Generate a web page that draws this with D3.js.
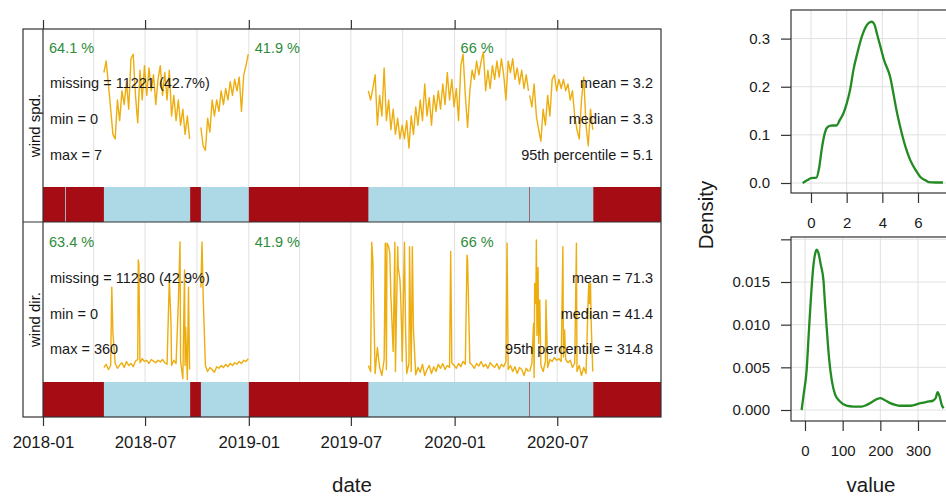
<!DOCTYPE html>
<html><head><meta charset="utf-8">
<script src="https://cdn.jsdelivr.net/npm/d3@7"></script>
<style>
body{margin:0;background:#fff}
svg{display:block}
text{font-family:"Liberation Sans",Arial,sans-serif}
</style>
</head><body>
<svg id="c" width="946" height="496"></svg>
<script>
// ---------------- DATA ----------------
const variables = ["wind spd.", "wind dir."];
const xTickLabels = ["2018-01","2018-07","2019-01","2019-07","2020-01","2020-07"];
const gridDates = ["2018-04-01","2018-07-01","2018-10-01","2019-01-01","2019-04-01","2019-07-01","2019-10-01","2020-01-01","2020-04-01","2020-07-01"];
const yearStarts = ["2018-01-01","2019-01-01","2020-01-01"];
const stepDays = 4;

// wind speed daily means (every 4 days within each run of data)
const wsStarts = ["2018-04-19","2018-10-08","2019-08-01","2020-05-13"];
const wsSegA = [4.5,5.0,4.0,2.9,1.8,1.6,3.3,2.4,3.7,3.1,4.1,2.9,5.1,5.3,3.5,2.3,4.6,3.3,4.8,3.5,4.7,3.7,4.4,3.1,4.2,4.8,3.5,4.5,3.3,4.6,2.6,3.5,2.4,3.3,2.2,2.9,1.8,2.6,1.6];
const wsSegB = [2.1,1.3,1.1,2.5,1.9,3.3,2.6,3.3,2.8,3.7,3.1,3.8,3.3,4.1,3.5,4.2,3.7,4.3,2.8,4.4,4.8,5.3];
const wsSegC = [3.7,3.3,3.8,4.4,2.2,3.5,2.6,4.7,2.4,3.3,2.0,2.9,1.8,2.5,1.6,2.2,1.6,2.4,1.2,2.6,1.8,3.0,2.2,3.3,2.4,4.0,2.6,3.4,2.2,3.5,2.8,3.7,2.9,4.0,3.1,4.5,3.3,4.2,3.0,3.8,2.4,4.8,5.3,3.5,2.1,3.7,4.6,4.2,5.0,4.4,5.0,5.4,3.7,4.6,3.8,4.8,4.2,5.0,4.3,5.1,4.4,3.3,5.0,4.5,5.1,4.2,4.7,4.0,4.6,3.8,4.4,3.7];
const wsSegD = [3.5,3.0,4.0,2.6,2.0,1.5,2.9,2.2,3.5,2.6,4.2,4.4,3.7,4.2,3.8,4.2,3.7,4.0,3.3,3.7,2.6,2.0,1.6,3.3,4.3,2.2,1.3,2.9,2.0];

// wind direction daily means (every 4 days) plus individual high days
const wdStarts = ["2018-04-19","2018-10-08","2019-08-01","2020-05-13"];
const wdSegA = [40,48,35,45,30,50,38,46,52,40,55,45,50,42,56,60,52,62,55,58,50,60,56,52,58,54,60,52,48,55,45,58,50,40,55,12,45,10,35];
const wdSegB = [240,220,45,30,40,35,28,42,38,45,40,48,42,50,45,52,48,55,50,58,55,62];
const wdSegC = [45,30,70,25,90,40,20,60,35,50,25,80,30,45,20,55,35,25,50,30,45,22,40,28,48,20,35,45,25,42,30,48,38,50,35,45,40,52,45,38,50,42,55,48,40,52,46,38,50,44,55,42,48,38,52,45,40,50,36,48,42,55,35,45,30,42,25,40,35,20,38,30];
const wdSegD = [30,50,15,60,25,45,30,55,40,60,55,65,58,62,55,66,60,52,58,40,50,30,45,20,40,25,35,15,30];
const wdSpikeDates = ["2018-05-03","2018-05-05","2018-06-19","2018-06-20","2018-08-13","2018-08-16","2018-08-29","2018-09-01","2018-09-09","2018-09-11","2018-09-16",
  "2018-10-10",
  "2019-08-07","2019-08-09","2019-08-30","2019-08-31","2019-09-03","2019-09-06","2019-09-08","2019-09-10","2019-09-17","2019-09-22","2019-09-23","2019-09-26","2019-09-27","2019-09-29","2019-10-04","2019-10-06","2019-10-13","2019-10-18","2019-10-20","2019-12-25","2020-01-23","2020-01-24","2020-04-03",
  "2020-05-20","2020-05-22","2020-05-24","2020-05-25","2020-05-26","2020-05-28","2020-05-29","2020-05-31","2020-06-11","2020-07-11","2020-07-14","2020-08-04","2020-08-25","2020-08-26","2020-08-27","2020-08-28","2020-08-29","2020-08-30"];
const wdSpikeValues = [241,126,309,300,259,151,201,354,284,141,241,
  354,
  353,309,192,351,351,342,326,217,353,342,290,260,230,134,353,134,342,342,134,330,321,310,351,
  150,250,200,359,120,290,100,209,209,342,134,351,217,250,200,240,251,160];

// data capture (periods with data)
const wsCapture = [["2018-02-09","2018-02-10"],["2018-04-19","2018-09-19"],["2018-10-08","2019-01-01"],["2019-08-01","2020-05-12"],["2020-05-13","2020-09-03"]];
const wdCapture = [["2018-04-19","2018-09-19"],["2018-10-08","2019-01-01"],["2019-08-01","2020-05-12"],["2020-05-13","2020-09-03"]];

const wsPercent = ["64.1 %","41.9 %","66 %"];
const wdPercent = ["63.4 %","41.9 %","66 %"];
const wsStatsLeft = ["missing = 11221 (42.7%)","min = 0","max = 7"];
const wsStatsRight = ["mean = 3.2","median = 3.3","95th percentile = 5.1"];
const wdStatsLeft = ["missing = 11280 (42.9%)","min = 0","max = 360"];
const wdStatsRight = ["mean = 71.3","median = 41.4","95th percentile = 314.8"];

// density curves
const wsDensX = [-0.47,-0.2,0,0.3,0.45,0.6,0.75,0.9,1.1,1.45,1.6,1.82,2.0,2.2,2.38,2.6,2.85,3.13,3.3,3.41,3.55,3.7,3.88,4.1,4.44,4.65,4.8,5.0,5.3,5.56,5.9,6.12,6.4,6.6,7.0,7.4];
const wsDensY = [0,0.006,0.01,0.011,0.03,0.07,0.1,0.115,0.119,0.12,0.13,0.145,0.165,0.195,0.235,0.27,0.304,0.328,0.334,0.335,0.33,0.31,0.285,0.255,0.22,0.18,0.15,0.117,0.075,0.048,0.025,0.013,0.006,0.002,0.001,0.001];
const wdDensX = [-9,-3,4.4,10,16,22,28,31,35,42,49,53,58,64,71,80,93,110,128,150,164,180,192,200,210,226,240,252,280,306,330,340,347,352,358,363,368];
const wdDensY = [0,0.002,0.0047,0.009,0.0133,0.0168,0.0185,0.0188,0.0185,0.017,0.0152,0.0125,0.0094,0.006,0.0035,0.0018,0.001,0.0005,0.0004,0.0004,0.0006,0.001,0.0013,0.0014,0.0012,0.0008,0.0006,0.0005,0.0005,0.0008,0.001,0.0011,0.0014,0.0021,0.0015,0.0006,0.0002];
const wsDensXTicks = [0,2,4,6];
const wsDensYTicks = [0,0.1,0.2,0.3];
const wsDensYLabels = ["0.0","0.1","0.2","0.3"];
const wdDensXTicks = [0,100,200,300];
const wdDensYTicks = [0,0.005,0.01,0.015,0.02];
const wdDensYLabels = ["0.000","0.005","0.010","0.015",""];

// ---------------- DRAW ----------------
const svg = d3.select("#c");
const P = d3.utcParse("%Y-%m-%d");
const DAY = 86400000;
const RED = "#A50C14", BLUE = "#ADD8E6", GOLD = "#EEAD0E", GREEN = "#228B22", PCTGREEN = "#2E8B3A", GRID = "#E0E0E0", BORDER = "#333";
const FONT = "Liberation Sans, Arial, sans-serif";

const L = {x0:43, x1:661, sx:23};
const x = d3.scaleUtc().domain([P("2018-01-01"), P("2021-01-01")]).range([L.x0, L.x1]);

function buildSegments(starts, segs, spikeDates, spikeVals) {
  const spikes = spikeDates.map((d,i)=>({date:P(d), value:spikeVals[i]}));
  return segs.map((vals, i) => {
    const s = P(starts[i]).getTime();
    const m = new Map();
    vals.forEach((v,k)=>m.set(s + k*stepDays*DAY, v));
    const e = s + (vals.length-1)*stepDays*DAY;
    spikes.forEach(p => { const t = p.date.getTime(); if (t>=s && t<=e) m.set(t, p.value); });
    return Array.from(m, ([t,v])=>({date:new Date(t), value:v})).sort((a,b)=>a.date-b.date);
  });
}

const panels = [
  {name:variables[0], top:29, dataBottom:187, bottom:222,
   y:d3.scaleLinear().domain([-0.5,6.4]).range([187,29]),
   segs:buildSegments(wsStarts,[wsSegA,wsSegB,wsSegC,wsSegD],[],[]),
   capture:wsCapture, pct:wsPercent, sl:wsStatsLeft, sr:wsStatsRight, textY:[48,83,119,155]},
  {name:variables[1], top:222, dataBottom:382, bottom:417,
   y:d3.scaleLinear().domain([0,360]).range([383.5,239.5]),
   segs:buildSegments(wdStarts,[wdSegA,wdSegB,wdSegC,wdSegD],wdSpikeDates,wdSpikeValues),
   capture:wdCapture, pct:wdPercent, sl:wdStatsLeft, sr:wdStatsRight, textY:[242,278,314,349]}
];

panels.forEach((p, pi) => {
  const g = svg.append("g");
  const cid = "clip"+pi;
  svg.append("clipPath").attr("id",cid).append("rect")
    .attr("x",L.x0).attr("y",p.top).attr("width",L.x1-L.x0).attr("height",p.dataBottom-p.top);
  g.selectAll("line.grid").data(gridDates).join("line")
    .attr("x1",d=>x(P(d))).attr("x2",d=>x(P(d)))
    .attr("y1",p.top).attr("y2",p.dataBottom)
    .attr("stroke",GRID).attr("stroke-width",1);
  const line = d3.line().x(d=>x(d.date)).y(d=>p.y(d.value));
  g.append("g").attr("clip-path",`url(#${cid})`).selectAll("path").data(p.segs).join("path")
    .attr("d",line).attr("fill","none").attr("stroke",GOLD).attr("stroke-width",1.4).attr("stroke-linejoin","round");
  g.append("rect").attr("x",L.x0).attr("y",p.dataBottom).attr("width",L.x1-L.x0).attr("height",p.bottom-p.dataBottom).attr("fill",RED);
  g.selectAll("rect.cap").data(p.capture).join("rect")
    .attr("x",d=>x(P(d[0]))).attr("y",p.dataBottom)
    .attr("width",d=>Math.max(0.8,x(P(d[1]))-x(P(d[0]))))
    .attr("height",p.bottom-p.dataBottom).attr("fill",BLUE);
  g.selectAll("text.pct").data(p.pct).join("text")
    .attr("x",(d,i)=>x(P(yearStarts[i]))+6).attr("y",p.textY[0])
    .attr("dominant-baseline","central").attr("font-size",14.5).attr("fill",PCTGREEN).text(d=>d);
  g.selectAll("text.sl").data(p.sl).join("text")
    .attr("x",50).attr("y",(d,i)=>p.textY[i+1]).attr("dominant-baseline","central")
    .attr("font-size",14.5).attr("fill","#1a1a1a").text(d=>d);
  g.selectAll("text.sr").data(p.sr).join("text")
    .attr("x",653).attr("y",(d,i)=>p.textY[i+1]).attr("dominant-baseline","central")
    .attr("text-anchor","end").attr("font-size",14.5).attr("fill","#1a1a1a").text(d=>d);
  g.append("text").attr("transform",`translate(${(L.sx+L.x0)/2+1},${(p.top+p.bottom)/2}) rotate(-90)`)
    .attr("text-anchor","middle").attr("dominant-baseline","central").attr("font-size",15).attr("fill","#111").text(p.name);
});

svg.append("rect").attr("x",L.sx).attr("y",29).attr("width",L.x1-L.sx).attr("height",417-29)
  .attr("fill","none").attr("stroke",BORDER).attr("stroke-width",1.2);
svg.append("line").attr("x1",L.x0).attr("x2",L.x0).attr("y1",29).attr("y2",417).attr("stroke",BORDER).attr("stroke-width",1.2);
svg.append("line").attr("x1",L.sx).attr("x2",L.x1).attr("y1",222).attr("y2",222).attr("stroke",BORDER).attr("stroke-width",1.2);

const xTicks = xTickLabels.map(s=>P(s+"-01"));
const axB = svg.append("g").attr("transform","translate(0,417)")
  .call(d3.axisBottom(x).tickValues(xTicks).tickFormat((d,i)=>xTickLabels[i]).tickSize(9).tickPadding(10));
axB.select(".domain").remove();
axB.selectAll("line").attr("stroke",BORDER).attr("stroke-width",1.2);
axB.selectAll("text").attr("font-size",16.8).attr("fill","#1a1a1a").attr("font-family",FONT);
const axT = svg.append("g").attr("transform","translate(0,29)")
  .call(d3.axisTop(x).tickValues(xTicks).tickFormat("").tickSize(9));
axT.select(".domain").remove();
axT.selectAll("line").attr("stroke",BORDER).attr("stroke-width",1.2);

svg.append("text").attr("x",352).attr("y",492).attr("text-anchor","middle").attr("font-size",20.5).attr("fill","#1a1a1a").text("date");

const dens = [
  {top:10,bottom:193,left:791,right:962,
   x:d3.scaleLinear().domain([0,6]).range([811,918]),
   y:d3.scaleLinear().domain([0,0.3]).range([183,38.6]),
   xs:wsDensX, ys:wsDensY, xt:wsDensXTicks, yt:wsDensYTicks, yl:wsDensYLabels},
  {top:237,bottom:421,left:791,right:962,
   x:d3.scaleLinear().domain([0,300]).range([805,918]),
   y:d3.scaleLinear().domain([0,0.015]).range([410,282]),
   xs:wdDensX, ys:wdDensY, xt:wdDensXTicks, yt:wdDensYTicks, yl:wdDensYLabels}
];
dens.forEach(d => {
  const g = svg.append("g");
  g.selectAll("line.vx").data(d.xt).join("line")
    .attr("x1",v=>d.x(v)).attr("x2",v=>d.x(v)).attr("y1",d.top).attr("y2",d.bottom).attr("stroke",GRID);
  g.selectAll("line.hy").data(d.yt.filter(v=>d.y(v)>d.top+2)).join("line")
    .attr("x1",d.left).attr("x2",d.right).attr("y1",v=>d.y(v)).attr("y2",v=>d.y(v)).attr("stroke",GRID);
  const pts = d.xs.map((v,i)=>[v,d.ys[i]]);
  g.append("path").attr("d",d3.line().x(q=>d.x(q[0])).y(q=>d.y(q[1])).curve(d3.curveMonotoneX)(pts))
    .attr("fill","none").attr("stroke",GREEN).attr("stroke-width",2.3);
  g.append("rect").attr("x",d.left).attr("y",d.top).attr("width",d.right-d.left).attr("height",d.bottom-d.top)
    .attr("fill","none").attr("stroke",BORDER).attr("stroke-width",1.2);
  const ax = g.append("g").attr("transform",`translate(0,${d.bottom})`)
    .call(d3.axisBottom(d.x).tickValues(d.xt).tickFormat(d3.format("d")).tickSize(10).tickPadding(14));
  ax.select(".domain").remove();
  ax.selectAll("line").attr("stroke",BORDER).attr("stroke-width",1.2);
  ax.selectAll("text").attr("font-size",15).attr("fill","#1a1a1a").attr("font-family",FONT);
  const ay = g.append("g").attr("transform",`translate(${d.left},0)`)
    .call(d3.axisLeft(d.y).tickValues(d.yt).tickFormat((v,i)=>d.yl[i]).tickSize(10).tickPadding(11));
  ay.select(".domain").remove();
  ay.selectAll("line").attr("stroke",BORDER).attr("stroke-width",1.2);
  ay.selectAll("text").attr("font-size",15).attr("fill","#1a1a1a").attr("font-family",FONT);
});
svg.append("text").attr("transform","translate(713,215) rotate(-90)").attr("text-anchor","middle")
  .attr("font-size",20.5).attr("fill","#1a1a1a").text("Density");
svg.append("text").attr("x",871).attr("y",492).attr("text-anchor","middle").attr("font-size",20.5).attr("fill","#1a1a1a").text("value");
</script>
</body></html>
